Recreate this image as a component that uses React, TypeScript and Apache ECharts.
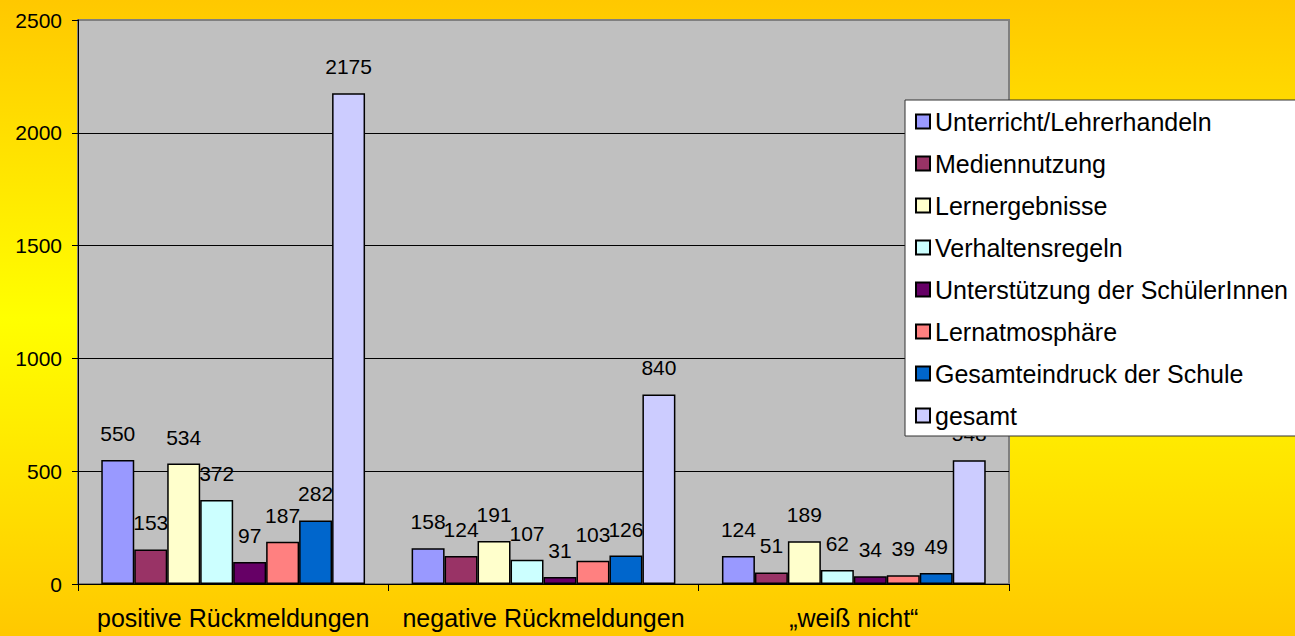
import React, { useEffect, useRef } from "react";
import * as echarts from "echarts";

const categories = ["positive Rückmeldungen", "negative Rückmeldungen", "„weiß nicht“"];
const seriesNames = [
  "Unterricht/Lehrerhandeln",
  "Mediennutzung",
  "Lernergebnisse",
  "Verhaltensregeln",
  "Unterstützung der SchülerInnen",
  "Lernatmosphäre",
  "Gesamteindruck der Schule",
  "gesamt",
];
const unterricht = [550, 158, 124];
const mediennutzung = [153, 124, 51];
const lernergebnisse = [534, 191, 189];
const verhaltensregeln = [372, 107, 62];
const unterstuetzung = [97, 31, 34];
const lernatmosphaere = [187, 103, 39];
const gesamteindruck = [282, 126, 49];
const gesamt = [2175, 840, 548];
const seriesValues = [
  unterricht,
  mediennutzung,
  lernergebnisse,
  verhaltensregeln,
  unterstuetzung,
  lernatmosphaere,
  gesamteindruck,
  gesamt,
];
const colors = ["#9999FF", "#993366", "#FFFFCC", "#CCFFFF", "#660066", "#FF8080", "#0066CC", "#CCCCFF"];
const yTicks = { min: 0, max: 2500, interval: 500 };

const FONT = '"Liberation Sans", Arial, sans-serif';

export default function App() {
  const ref = useRef<HTMLDivElement>(null);
  useEffect(() => {
    if (!ref.current) return;
    const chart = echarts.init(ref.current, undefined, { renderer: "svg" });
    chart.setOption({
      animation: false,
      backgroundColor: new echarts.graphic.LinearGradient(0, 0, 0, 1, [
        { offset: 0, color: "#FFC800" },
        { offset: 0.5, color: "#FFFF00" },
        { offset: 1, color: "#FFC800" },
      ]),
      textStyle: { fontFamily: FONT },
      grid: {
        left: 78,
        right: 286,
        top: 20,
        bottom: 52,
        show: true,
        backgroundColor: "#C0C0C0",
        borderColor: "#808080",
        borderWidth: 2,
      },
      legend: {
        orient: "vertical",
        left: 905,
        top: 100,
        backgroundColor: "#FFFFFF",
        borderColor: "#333333",
        borderWidth: 1,
        borderRadius: 0,
        padding: [9, 30, 8, 10],
        itemWidth: 14,
        itemHeight: 14,
        itemGap: 17,
        icon: "rect",
        textStyle: { fontFamily: FONT, fontSize: 25, color: "#000000" },
        data: seriesNames,
      },
      xAxis: {
        type: "category",
        data: categories,
        boundaryGap: true,
        axisLine: { show: true, lineStyle: { color: "#000000", width: 1 } },
        axisTick: { show: true, alignWithLabel: false, length: 7, lineStyle: { color: "#000000" } },
        axisLabel: {
          interval: 0,
          hideOverlap: false,
          fontFamily: FONT,
          fontSize: 25,
          color: "#000000",
          margin: 21,
        },
        splitLine: { show: false },
      },
      yAxis: {
        type: "value",
        min: yTicks.min,
        max: yTicks.max,
        interval: yTicks.interval,
        axisLine: { show: true, lineStyle: { color: "#000000", width: 1 } },
        axisTick: { show: true, length: 6, lineStyle: { color: "#000000" } },
        axisLabel: {
          fontFamily: FONT,
          fontSize: 21,
          color: "#000000",
          margin: 16,
          formatter: (v: number) => String(v),
        },
        splitLine: { show: true, showMaxLine: false, lineStyle: { color: "#000000", width: 1 } },
      },
      series: seriesNames.map((name, i) => ({
        name,
        type: "bar",
        data: seriesValues[i],
        barGap: "0%",
        barCategoryGap: "15%",
        itemStyle: { color: colors[i], borderColor: "#000000", borderWidth: 1.5 },
        label: {
          show: true,
          position: "top",
          distance: 16,
          fontFamily: FONT,
          fontSize: 21,
          color: "#000000",
        },
      })),
    });
    return () => chart.dispose();
  }, []);
  return (
    <div
      ref={ref}
      style={{ position: "fixed", left: 0, top: 0, width: 1295, height: 636 }}
    />
  );
}
